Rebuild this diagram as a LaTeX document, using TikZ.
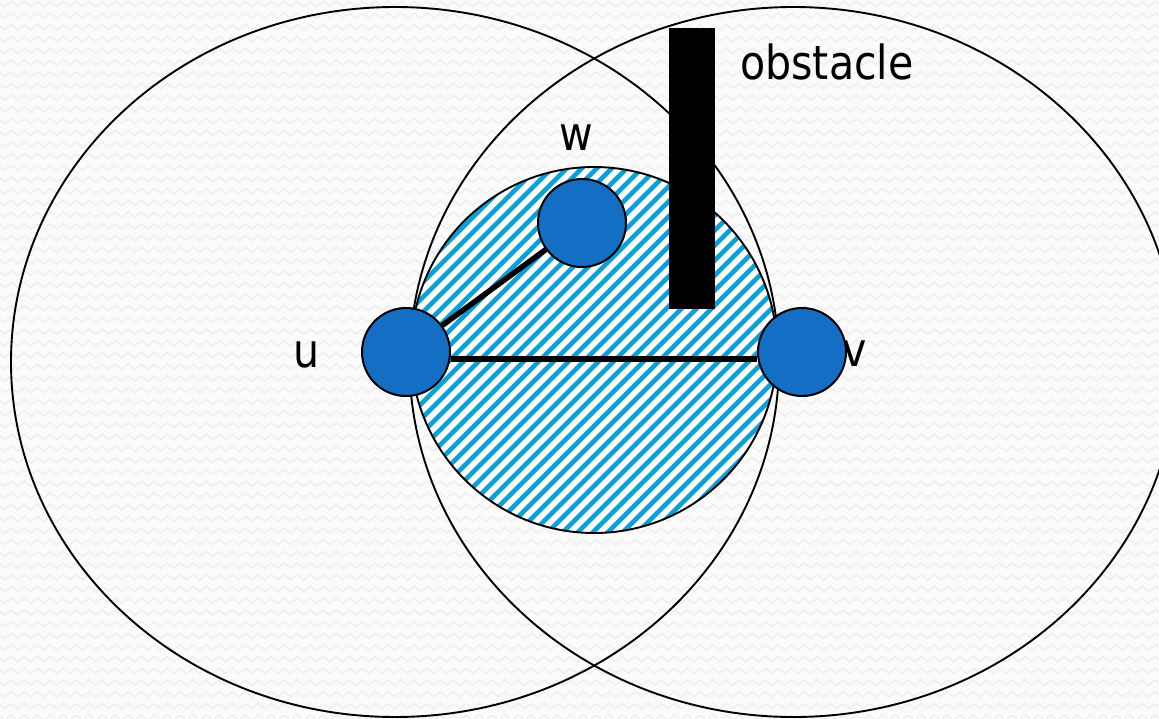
\documentclass[tikz,border=0pt]{standalone}
\usepackage{fontspec}
\setmainfont{DejaVu Sans}[FakeStretch=0.875]
\usetikzlibrary{decorations.pathmorphing}
\definecolor{nodeblue}{RGB}{20,110,196}
\definecolor{hatchblue}{RGB}{10,160,218}
\definecolor{bgzz}{RGB}{238,238,238}
\definecolor{bgbase}{RGB}{251,251,251}
\tikzset{
  vertex/.style={circle, draw=black, line width=2pt, fill=nodeblue, minimum size=88pt, inner sep=0pt},
  rangeline/.style={draw=black, line width=1.9pt},
  linkline/.style={draw=black, line width=5.5pt},
  lbl/.style={inner sep=0pt, font=\fontsize{47}{56}\selectfont},
  stripe/.style={draw=hatchblue, line width=4.6pt},
  zz/.style={draw=bgzz, line width=1.4pt, decorate, decoration={zigzag, segment length=13pt, amplitude=2.6pt}}
}
\begin{document}
\begin{tikzpicture}[x=1pt, y=-1pt]
\useasboundingbox (0,0) rectangle (1159,718);
% background texture
\fill[bgbase] (0,0) rectangle (1159,718);
\foreach \r in {0,...,61} {
  \draw[zz] (-5,{\r*11.7+4}) -- (1165,{\r*11.7+4});
}
% hatched region
\begin{scope}
  \clip (594,350) circle (183);
  \fill[white] (400,160) rectangle (790,540);
  \foreach \c in {660,675,...,1230} {
    \draw[stripe] ({\c-150},150) -- ({\c-550},550);
  }
\end{scope}
\draw[rangeline] (594,350) circle (183);
% transmission ranges
\draw[rangeline] (395,362) ellipse [x radius=384, y radius=355];
\draw[rangeline] (793.5,362) ellipse [x radius=384, y radius=355];
% obstacle
\fill[black] (669,28) rectangle (715,309);
\node[lbl, anchor=base west] (obs) at (740,79) {obstacle};
% labels
\node[lbl, anchor=base] (lw) at (576,150) {w};
\node[lbl, anchor=base] (lu) at (307,367) {u};
\node[lbl, anchor=base] (lv) at (855,366) {v};
% nodes
\node[vertex] (u) at (406,352) {};
\node[vertex] (w) at (582,223) {};
\node[vertex] (v) at (802,352) {};
% links
\draw[linkline] (u) -- (w);
\draw[linkline] ([yshift=-7pt]u.east) -- ([yshift=-7pt]v.west);
\end{tikzpicture}
\end{document}
